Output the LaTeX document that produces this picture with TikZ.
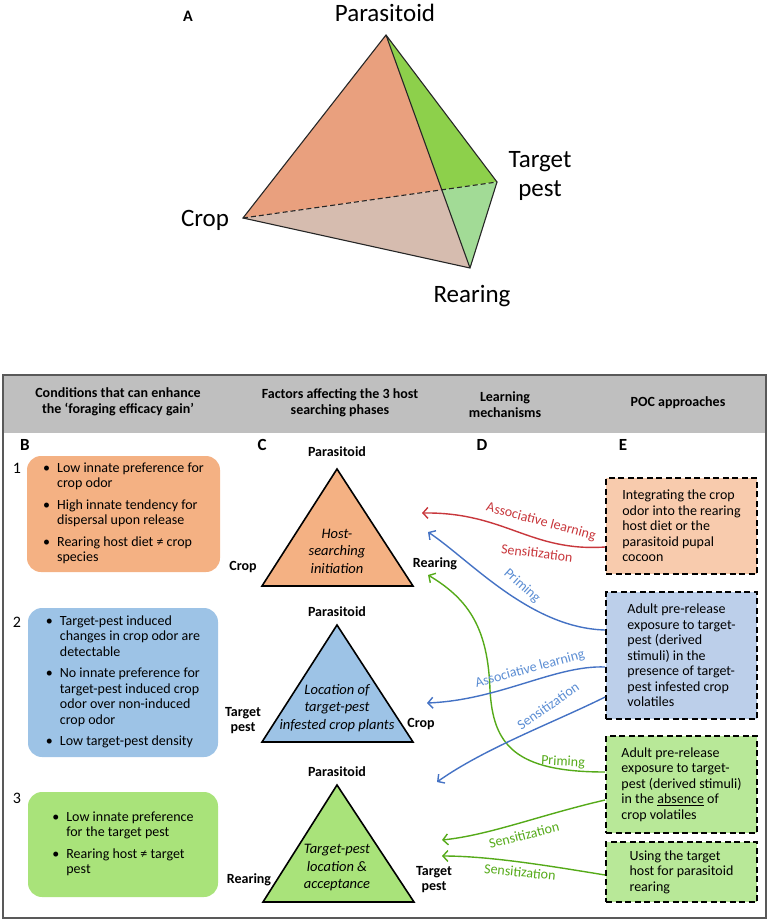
\documentclass[tikz,border=0pt]{standalone}
\usepackage{fontspec}
\setmainfont{Carlito}
\usepackage{tikz}
\usetikzlibrary{arrows.meta, positioning, calc}
\definecolor{tetorange}{RGB}{233,160,126}
\definecolor{tetbrown}{RGB}{214,188,175}
\definecolor{tetgreen}{RGB}{141,208,75}
\definecolor{tetlight}{RGB}{162,219,150}
\definecolor{phaseorange}{RGB}{244,177,131}
\definecolor{phaseblue}{RGB}{157,195,230}
\definecolor{phasegreen}{RGB}{169,227,122}
\definecolor{pocorange}{RGB}{248,203,173}
\definecolor{pocblue}{RGB}{188,207,234}
\definecolor{pocgreen}{RGB}{184,232,152}
\definecolor{headgray}{RGB}{191,191,191}
\definecolor{learnred}{RGB}{200,55,60}
\definecolor{learnblue}{RGB}{68,114,196}
\definecolor{lablblue}{RGB}{91,141,211}
\definecolor{learngreen}{RGB}{85,170,25}
\newcommand{\fs}[2]{\fontsize{#1}{#2}\selectfont}

\begin{document}
\begin{tikzpicture}[
  x=1pt, y=-1pt,
  vlabel/.style={font=\fs{25}{29}, align=center, inner sep=0pt},
  panel/.style={font=\fs{17}{20}\bfseries, inner sep=0pt},
  num/.style={font=\fs{16}{18}, inner sep=0pt},
  head/.style={font=\fs{14}{16}\bfseries, align=center},
  cond/.style={rounded corners=14pt, align=left, font=\fs{14}{15.5}, inner sep=0pt},
  edge/.style={draw=black!85, line width=1.1pt},
  tri/.style={draw=black, line width=1.6pt, line join=miter},
  tlabel/.style={font=\fs{14}{15}\bfseries, align=center, inner sep=0pt},
  phase/.style={font=\fs{14.5}{17.5}\itshape, align=center, inner sep=0pt},
  poc/.style={draw=black, line width=1.8pt, dash pattern=on 6pt off 3.5pt, align=left, font=\fs{14}{15.5}, inner sep=0pt, minimum width=151pt},
  learn/.style={line width=1.4pt, -{Straight Barb[length=5pt,width=11pt]}},
  llab/.style={font=\fs{14}{16}, inner sep=0pt}
]
\useasboundingbox (0,0) rectangle (772,924);

% A: tetrahedron
\coordinate (P) at (386,35);
\coordinate (C) at (243,218);
\coordinate (T) at (497,182);
\coordinate (R) at (470,268);
\coordinate (X) at (intersection of P--R and C--T);
\fill[tetorange] (P) -- (C) -- (X) -- cycle;
\fill[tetbrown] (C) -- (R) -- (X) -- cycle;
\fill[tetgreen] (P) -- (X) -- (T) -- cycle;
\fill[tetlight] (X) -- (R) -- (T) -- cycle;
\draw[edge] (C) -- (P) -- (T) -- (R) -- cycle (P) -- (R);
\draw[edge, dash pattern=on 5pt off 3pt] (C) -- (T);

\node[font=\fs{16}{18}\bfseries, inner sep=0pt] (pa) at (188,16) {A};
\node[vlabel, anchor=base] (vp) at (385,21) {Parasitoid};
\node[vlabel, anchor=base] (vc) at (205,226) {Crop};
\node[vlabel] (vt) at (540,176) {Target\\pest};
\node[vlabel, anchor=base] (vr) at (472,302) {Rearing};

% table frame and header
\fill[headgray] (3,375) rectangle (766,433);
\draw[black!65, line width=1.4pt] (3,375) rectangle (766,918);
\node[head] (h1) at (118,402) {Conditions that can enhance\\the `foraging efficacy gain'};
\node[head] (h2) at (340,403) {Factors affecting the 3 host\\searching phases};
\node[head] (h3) at (505,405) {Learning\\mechanisms};
\node[head] (h4) at (678,403) {POC approaches};

\node[panel] (pb) at (25,445) {B};
\node[panel] (pc) at (262,445) {C};
\node[panel] (pd) at (482,445) {D};
\node[panel] (pe) at (623,445) {E};

% B: conditions
\node[num] (n1) at (17,468) {1};
\node[num] (n2) at (17,622) {2};
\node[num] (n3) at (17,798) {3};

\node[cond, fill=phaseorange, minimum width=193pt, minimum height=116pt] (b1) at (123.5,514) {%
\begin{tabular}{@{}l@{\hspace{7pt}}l@{}}
\textbullet & Low innate preference for\\
 & crop odor\\[6pt]
\textbullet & High innate tendency for\\
 & dispersal upon release\\[6pt]
\textbullet & Rearing host diet ≠ crop\\
 & species
\end{tabular}};
\node[cond, fill=phaseblue, minimum width=190pt, minimum height=149pt] (b2) at (123,682.5) {%
\begin{tabular}{@{}l@{\hspace{7pt}}l@{}}
\textbullet & Target-pest induced\\
 & changes in crop odor are\\
 & detectable\\[6pt]
\textbullet & No innate preference for\\
 & target-pest induced crop\\
 & odor over non-induced\\
 & crop odor\\[6pt]
\textbullet & Low target-pest density
\end{tabular}};
\node[cond, fill=phasegreen, minimum width=190pt, minimum height=105pt] (b3) at (123,844.5) {%
\begin{tabular}{@{}l@{\hspace{7pt}}l@{}}
\textbullet & Low innate preference\\
 & for the target pest\\[6pt]
\textbullet & Rearing host ≠ target\\
 & pest
\end{tabular}};

% C: host searching phases
\coordinate (t1a) at (337,469);
\coordinate (t1l) at (262,586);
\coordinate (t1r) at (413,586);
\coordinate (t2a) at (337,625);
\coordinate (t2l) at (262,742);
\coordinate (t2r) at (413,742);
\coordinate (t3a) at (337,785);
\coordinate (t3l) at (263,902);
\coordinate (t3r) at (414,902);
\draw[tri, fill=phaseorange] (t1a) -- (t1l) -- (t1r) -- cycle;
\draw[tri, fill=phaseblue] (t2a) -- (t2l) -- (t2r) -- cycle;
\draw[tri, fill=phasegreen] (t3a) -- (t3l) -- (t3r) -- cycle;

\node[phase] (c1) at (337,551) {Host-\\searching\\initiation};
\node[phase] (c2) at (337,708) {Location of\\target-pest\\infested crop plants};
\node[phase] (c3) at (337,868) {Target-pest\\location \&\\acceptance};

\node[tlabel] (c1p) at (337,452) {Parasitoid};
\node[tlabel] (c1l) at (243,567) {Crop};
\node[tlabel] (c1r) at (435,564) {Rearing};
\node[tlabel] (c2p) at (337,612) {Parasitoid};
\node[tlabel] (c2l) at (243,721) {Target\\pest};
\node[tlabel] (c2r) at (421,724) {Crop};
\node[tlabel] (c3p) at (337,772) {Parasitoid};
\node[tlabel] (c3l) at (249,880) {Rearing};
\node[tlabel] (c3r) at (434,880) {Target\\pest};

% E: POC approaches
\node[poc, fill=pocorange, minimum height=96pt] (e1) at (681.5,526) {Integrating the crop\\odor into the rearing\\host diet or the\\parasitoid pupal\\cocoon};
\node[poc, fill=pocblue, minimum height=127pt] (e2) at (681.5,655.5) {Adult pre-release\\exposure to target-\\pest (derived\\stimuli) in the\\presence of target-\\pest infested crop\\volatiles};
\node[poc, fill=pocgreen, minimum height=97pt] (e3) at (681.5,784.5) {Adult pre-release\\exposure to target-\\pest (derived stimuli)\\in the \underline{absence} of\\crop volatiles};
\node[poc, fill=pocgreen, minimum height=60pt] (e4) at (681.5,872) {Using the target\\host for parasitoid\\rearing};

% D: learning mechanisms
\coordinate (d1) at (422,513);
\coordinate (d2) at (428,532);
\coordinate (d3) at (428,575);
\coordinate (d4) at (427,703);
\coordinate (d5) at (437,782);
\coordinate (d6) at (442,840);
\coordinate (d7) at (442,856);

\draw[learn, learnred] ([yshift=-21pt]e1.west) .. controls (530,552) and (505,512) .. (d1);
\draw[learn, learnblue] ([yshift=25.5pt]e2.west) .. controls (530,628) and (470,560) .. (d2);
\draw[learn, learngreen] ([yshift=12.5pt]e3.west) .. controls (515,772) and (493,745) .. (490,690) .. controls (488,630) and (470,600) .. (d3);
\draw[learn, learnblue] ([yshift=-11.5pt]e2.west) .. controls (555,665) and (500,700) .. (d4);
\draw[learn, learnblue] ([yshift=-41.5pt]e2.west) .. controls (555,722) and (485,748) .. (d5);
\draw[learn, learngreen] ([yshift=-15.5pt]e3.west) .. controls (540,815) and (490,835) .. (d6);
\draw[learn, learngreen] ([yshift=-3pt]e4.west) .. controls (550,866) and (490,856) .. (d7);

\node[llab, text=learnred, rotate=-15] (l1) at (541,522) {Associative learning};
\node[llab, text=learnred, rotate=-7] (l2) at (537,553) {Sensitization};
\node[llab, text=lablblue, rotate=-42] (l3) at (522,586) {Priming};
\node[llab, text=lablblue, rotate=15] (l4) at (530,669) {Associative learning};
\node[llab, text=lablblue, rotate=35] (l5) at (548,706) {Sensitization};
\node[llab, text=learngreen, rotate=-3] (l6) at (563,762) {Priming};
\node[llab, text=learngreen, rotate=14] (l7) at (524,835) {Sensitization};
\node[llab, text=learngreen, rotate=-6] (l8) at (520,872) {Sensitization};
\end{tikzpicture}
\end{document}
